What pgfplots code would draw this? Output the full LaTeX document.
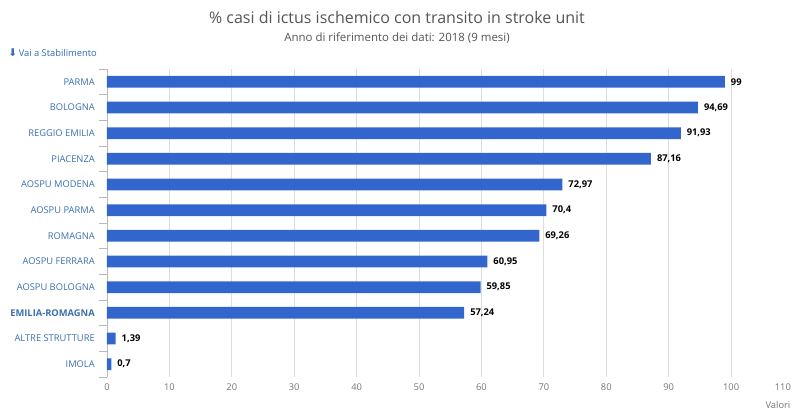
\documentclass[border=0pt]{standalone}
\usepackage{fontspec}
\setmainfont{Open Sans}
\newfontfamily\symfont{DejaVu Sans}
\usepackage{pgfplots}
\pgfplotsset{compat=1.18}

\definecolor{barblue}{HTML}{3366CC}
\definecolor{catblue}{HTML}{3B6FAE}
\definecolor{linkblue}{HTML}{2F6DB5}
\definecolor{titlegrey}{HTML}{555555}
\definecolor{tickgrey}{HTML}{777777}
\definecolor{gridgrey}{HTML}{DDDDDD}

\begin{document}
\begin{tikzpicture}
\useasboundingbox (0,0) rectangle (594.75pt,307.5pt);

\node[text=titlegrey, font=\fontsize{12}{14}\selectfont] at (297.75pt,294pt)
  {\% casi di ictus ischemico con transito in stroke unit};
\node[text=titlegrey, font=\fontsize{8.6}{10}\selectfont] at (297.75pt,279pt)
  {Anno di riferimento dei dati: 2018 (9 mesi)};
\node[anchor=west, inner sep=0pt, text=linkblue, font=\fontsize{7}{8}\selectfont] at (6pt,267.75pt)
  {{\symfont\fontsize{8}{9}\selectfont ⬇}\,Vai a Stabilimento};
\node[anchor=west, inner sep=0pt, text=tickgrey, font=\fontsize{7}{8}\selectfont] at (574pt,3.5pt)
  {Valori};

\begin{axis}[
  at={(80.25pt,24.75pt)}, anchor=south west,
  scale only axis,
  width=514.9pt, height=231pt,
  xbar, bar width=8.8pt,
  xmin=0, xmax=110,
  ymin=-0.5, ymax=11.5,
  xtick={0,10,...,100},
  extra x ticks={110},
  extra x tick style={grid=none, xticklabel style={xshift=-8pt}},
  ytick={0,...,11},
  yticklabels={IMOLA,ALTRE STRUTTURE,\textbf{EMILIA-ROMAGNA},AOSPU BOLOGNA,AOSPU FERRARA,ROMAGNA,AOSPU PARMA,AOSPU MODENA,PIACENZA,REGGIO EMILIA,BOLOGNA,PARMA},
  minor ytick={-0.5,0.5,...,11.5},
  xmajorgrids, major grid style={gridgrey, line width=0.6pt},
  axis x line*=bottom,
  x axis line style={draw=none},
  axis y line*=left,
  y axis line style={draw=gray!55, line width=0.6pt, -},
  tick align=outside,
  major tick length=0pt,
  minor tick length=6pt,
  minor tick style={draw=gray!55, line width=0.6pt},
  /pgf/number format/assume math mode=true,
  xticklabel style={text=tickgrey, font=\fontsize{7}{8}\selectfont, inner sep=0pt, yshift=-5pt},
  yticklabel style={text=catblue, font=\fontsize{7}{8}\selectfont, inner sep=0pt, xshift=-9pt},
  point meta=explicit symbolic,
  nodes near coords,
  nodes near coords style={text=black, font=\fontsize{7}{8}\selectfont\bfseries, anchor=west, xshift=1pt},
  clip=false,
]
\addplot[fill=barblue, draw=none] coordinates {
  (99,11) [99]
  (94.69,10) [94{,}69]
  (91.93,9) [91{,}93]
  (87.16,8) [87{,}16]
  (72.97,7) [72{,}97]
  (70.4,6) [70{,}4]
  (69.26,5) [69{,}26]
  (60.95,4) [60{,}95]
  (59.85,3) [59{,}85]
  (57.24,2) [57{,}24]
  (1.39,1) [1{,}39]
  (0.7,0) [0{,}7]
};
\end{axis}
\end{tikzpicture}
\end{document}
